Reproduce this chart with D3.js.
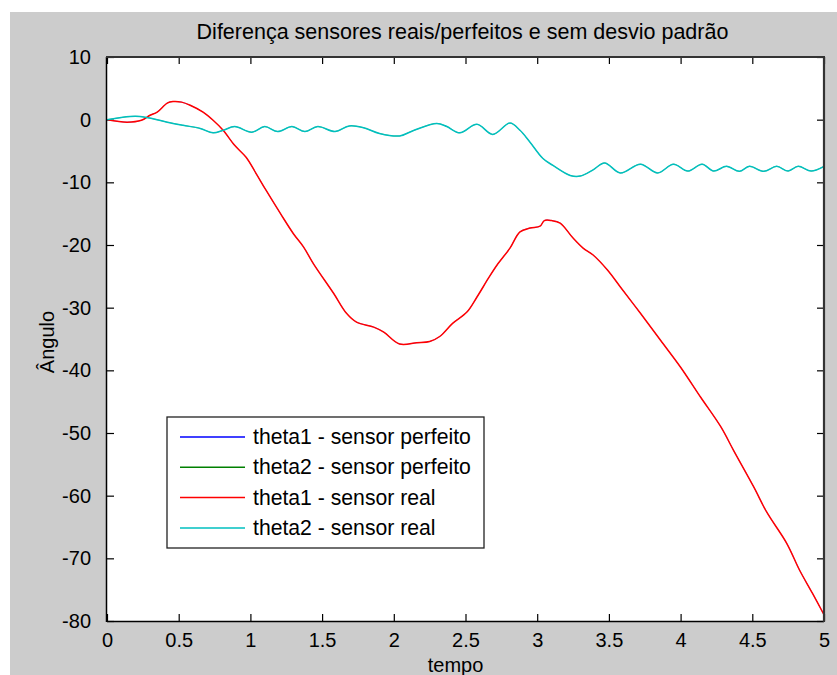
<!DOCTYPE html>
<html lang="en">
<head>
    <meta charset="UTF-8">
    <title>Diferença sensores</title>
    <style>
        body { margin:0; background:#fff; }
        text { font-family: 'Liberation Sans', Arial, sans-serif; fill:#000; }
        .tick-label { font-size:20px; }
        .title { font-size:21.5px; }
        .legend-text { font-size:21.2px; }
        .axis-label { font-size:20px; }
    </style>
    <script src="https://d3js.org/d3.v7.min.js"></script>
</head>
<body>
<script>

// theta1 (sensor real) - tempo / angulo
var tempo1 = [0, 0.14, 0.24, 0.30, 0.35, 0.42, 0.46, 0.52, 0.58, 0.67, 0.74, 0.81, 0.89, 0.97,
              1.04, 1.11, 1.21, 1.30, 1.37, 1.44, 1.58, 1.67, 1.74, 1.86, 1.93, 2.04, 2.16, 2.25,
              2.32, 2.41, 2.51, 2.58, 2.66, 2.72, 2.81, 2.88, 2.95, 3.02, 3.05, 3.10, 3.16, 3.25,
              3.32, 3.39, 3.49, 3.58, 3.72, 3.86, 4.00, 4.14, 4.28, 4.37, 4.51, 4.60, 4.74, 4.83,
              4.92, 5.0];
var theta1Real = [0, -0.4, -0.1, 0.7, 1.2, 2.65, 2.9, 2.8, 2.3, 1.2, -0.1, -1.7, -4.1, -6.0,
              -8.6, -11.3, -15.0, -18.2, -20.3, -23.0, -27.7, -30.9, -32.3, -33.1, -33.9, -35.8, -35.6, -35.4,
              -34.6, -32.5, -30.7, -28.3, -25.3, -23.2, -20.5, -17.9, -17.3, -17.0, -16.1, -16.1, -16.5, -18.9,
              -20.5, -21.6, -24.0, -26.7, -30.9, -35.2, -39.5, -44.3, -49.0, -52.8, -58.6, -62.6, -67.6, -71.9,
              -75.6, -79.0];

// theta2 (sensor real)
var tempo2 = [0, 0.16, 0.23, 0.32, 0.42, 0.53, 0.65, 0.74, 0.81, 0.89, 1.01, 1.10, 1.19, 1.29,
              1.38, 1.47, 1.59, 1.69, 1.79, 1.90, 2.04, 2.13, 2.30, 2.37, 2.46, 2.58, 2.69, 2.81,
              2.88, 2.95, 3.04, 3.11, 3.23, 3.30, 3.39, 3.47, 3.58, 3.72, 3.84, 3.95, 4.05, 4.15,
              4.23, 4.32, 4.41, 4.48, 4.58, 4.67, 4.75, 4.82, 4.91, 5.0];
var theta2Real = [0, 0.5, 0.5, 0.15, -0.4, -0.9, -1.4, -2.1, -1.7, -1.1, -2.0, -1.1, -1.9, -1.1,
              -1.9, -1.1, -1.9, -1.0, -1.3, -2.2, -2.6, -1.8, -0.6, -1.1, -2.1, -0.75, -2.35, -0.55,
              -1.7, -3.6, -6.2, -7.3, -8.9, -9.0, -8.0, -6.9, -8.5, -7.1, -8.5, -7.1, -8.2, -7.1,
              -8.2, -7.45, -8.25, -7.45, -8.25, -7.45, -8.2, -7.45, -8.2, -7.45];

// os sensores perfeitos ficam por baixo dos reais (praticamente iguais)
var theta1Perfeito = theta1Real;
var theta2Perfeito = theta2Real;

var xTicks = [0, 0.5, 1, 1.5, 2, 2.5, 3, 3.5, 4, 4.5, 5];
var yTicks = [10, 0, -10, -20, -30, -40, -50, -60, -70, -80];

var legendNames = ["theta1 - sensor perfeito", "theta2 - sensor perfeito",
                   "theta1 - sensor real", "theta2 - sensor real"];
var colors = ["#0000ff", "#008000", "#ff0000", "#00bfbf"];

var window_width = 837;
var window_height = 675;
var margin = { left:107, top:57, right:13, bottom:54 };
var frame_width = window_width - margin.left - margin.right;
var frame_height = window_height - margin.top - margin.bottom;

var svg = d3.select("body").append("svg").attr("width", window_width).attr("height", window_height);

// fundo cinza da figura
svg.append("rect").attr("x", 10).attr("y", 12).attr("width", window_width - 10).attr("height", window_height - 12)
   .style("fill", "#cccccc");

var g = svg.append("g").attr("transform", "translate(" + margin.left + "," + margin.top + ")");

var xScale = d3.scaleLinear().domain([0, 5]).range([0, frame_width]);
var yScale = d3.scaleLinear().domain([-80, 10]).range([frame_height, 0]);

g.append("rect").attr("width", frame_width).attr("height", frame_height).style("fill", "#fff");

// eixos (ticks para dentro, caixa fechada)
var tickLen = 7;
var fmt = function(d) { return String(d); };   // hifen normal, como no matlab
var xAxis = g.append("g").attr("transform", "translate(0," + frame_height + ")")
   .call(d3.axisBottom(xScale).tickValues(xTicks).tickSize(-tickLen).tickPadding(tickLen + 13).tickFormat(fmt));
var xTop = g.append("g").call(d3.axisTop(xScale).tickValues(xTicks).tickSize(-tickLen).tickFormat(""));
var yAxis = g.append("g")
   .call(d3.axisLeft(yScale).tickValues(yTicks).tickSize(-tickLen).tickPadding(tickLen + 9).tickFormat(fmt));
var yRight = g.append("g").attr("transform", "translate(" + frame_width + ",0)")
   .call(d3.axisRight(yScale).tickValues(yTicks).tickSize(-tickLen).tickFormat(""));

[xAxis, xTop, yAxis, yRight].forEach(function(a) {
    a.selectAll(".domain").remove();
    a.selectAll("line").style("stroke", "#000").style("stroke-width", 1.2);
    a.selectAll("text").attr("class", "tick-label").style("font-family", null).style("font-size", null)
     .attr("fill", null);
});
xAxis.selectAll("text").attr("dy", null).attr("y", 26);

var series = [
    {t: tempo1, v: theta1Perfeito, c: colors[0], w: 0.5},
    {t: tempo2, v: theta2Perfeito, c: colors[1], w: 0.5},
    {t: tempo1, v: theta1Real, c: colors[2], w: 1.5},
    {t: tempo2, v: theta2Real, c: colors[3], w: 1.5}
];

var line = d3.line()
    .x(function(d) { return xScale(d[0]); })
    .y(function(d) { return yScale(d[1]); })
    .curve(d3.curveCatmullRom);

var clip = g.append("clipPath").attr("id", "clip").append("rect").attr("width", frame_width).attr("height", frame_height + 2);

g.append("g").attr("clip-path", "url(#clip)").selectAll("path").data(series).enter().append("path")
    .attr("d", function(s) { return line(d3.zip(s.t, s.v)); })
    .style("fill", "none").style("stroke", function(s) { return s.c; }).style("stroke-width", function(s) { return s.w; });

// caixa
g.append("line").attr("x1", 0).attr("x2", frame_width).attr("y1", frame_height + 0.5).attr("y2", frame_height + 0.5)
  .style("stroke", "#000").style("stroke-width", 1.5);
g.append("line").attr("x1", -0.5).attr("x2", -0.5).attr("y1", 0).attr("y2", frame_height + 1)
  .style("stroke", "#000").style("stroke-width", 1.5);
g.append("line").attr("x1", -1).attr("x2", frame_width + 1).attr("y1", 0).attr("y2", 0)
  .style("stroke", "#333").style("stroke-width", 2.2);
g.append("line").attr("x1", frame_width).attr("x2", frame_width).attr("y1", 0).attr("y2", frame_height + 1)
  .style("stroke", "#333").style("stroke-width", 2.2);

// titulo e rotulos
svg.append("text").attr("class", "title").attr("x", margin.left + frame_width / 2 - 3).attr("y", 39)
   .attr("text-anchor", "middle").text("Diferença sensores reais/perfeitos e sem desvio padrão");
svg.append("text").attr("class", "axis-label").attr("x", margin.left + frame_width / 2 - 10).attr("y", 672)
   .attr("text-anchor", "middle").text("tempo");
svg.append("text").attr("class", "axis-label").attr("text-anchor", "middle")
   .attr("transform", "translate(54," + 342 + ") rotate(-90)").text("Ângulo");

// legenda
var leg = svg.append("g").attr("transform", "translate(167,417)");
leg.append("rect").attr("width", 317).attr("height", 131).style("fill", "#fff")
   .style("stroke", "#222").style("stroke-width", 1.3);
var items = leg.selectAll(".item").data(legendNames).enter().append("g")
   .attr("transform", function(d, i) { return "translate(0," + (20 + i * 30.3) + ")"; });
items.append("line").attr("x1", 13).attr("x2", 78).style("stroke", function(d, i) { return colors[i]; })
   .style("stroke-width", 1.5);
items.append("text").attr("class", "legend-text").attr("x", 86).attr("y", 7).text(function(d) { return d; });

</script>
</body>
</html>
